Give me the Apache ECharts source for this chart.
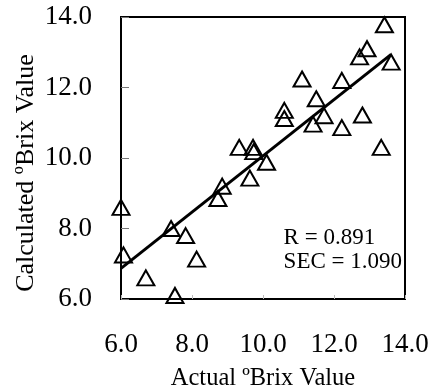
<!DOCTYPE html>
<html>
<head>
<meta charset="utf-8">
<script src="https://cdn.jsdelivr.net/npm/echarts@6/dist/echarts.min.js"></script>
<style>html,body{margin:0;padding:0;background:#fff}#c{width:429px;height:391px}</style>
</head>
<body>
<div id="c"></div>
<script>
// Actual °Brix (x) and calculated °Brix (y)
var actual = [6.0, 6.07, 6.7, 7.52, 7.41, 7.82, 8.13, 8.73, 8.85, 9.33, 9.72, 9.74, 9.63, 10.1,
              10.6, 10.6, 11.1, 11.5, 11.72, 11.41, 12.22, 12.22, 12.8, 13.33, 12.72, 12.93, 13.42, 13.61];
var calculated = [8.6, 7.25, 6.6, 6.1, 8.0, 7.8, 7.13, 8.85, 9.2, 10.3, 10.3, 10.18, 9.43, 9.88,
                  11.35, 11.12, 12.24, 11.68, 11.2, 10.96, 12.2, 10.86, 11.22, 10.3, 12.87, 13.1, 13.78, 12.72];
// Regression line endpoints
var fitX = [6.0, 13.61];
var fitY = [6.87, 12.94];
var axisMin = 6, axisMax = 14, axisStep = 2;
var xTitle = 'Actual ºBrix Value';
var yTitle = 'Calculated ºBrix Value';
var statsText = ['R = 0.891', 'SEC = 1.090'];

var pts = actual.map(function (v, i) { return [v, calculated[i]]; });
var fit = fitX.map(function (v, i) { return [v, fitY[i]]; });
var serif = '"Liberation Serif", "DejaVu Serif", serif';

var chart = echarts.init(document.getElementById('c'), null, {renderer: 'canvas'});
chart.setOption({
  animation: false,
  backgroundColor: '#fff',
  grid: {left: 121, right: 24, top: 17, bottom: 92, show: true, borderColor: '#000', borderWidth: 2,
         containLabel: false, outerBoundsMode: 'none'},
  xAxis: {
    type: 'value', min: axisMin, max: axisMax, interval: axisStep,
    name: xTitle, nameLocation: 'middle', nameGap: 67, nameMoveOverlap: false,
    nameTextStyle: {fontFamily: serif, fontSize: 24.5, color: '#000'},
    axisLine: {show: true, lineStyle: {color: '#000', width: 2}},
    axisTick: {show: true, inside: true, length: 4, lineStyle: {color: '#bbb', width: 1}},
    splitLine: {show: false},
    axisLabel: {margin: 32, fontFamily: serif, fontSize: 27, color: '#000',
      formatter: function (v) { return v.toFixed(1); }}
  },
  yAxis: {
    type: 'value', min: axisMin, max: axisMax, interval: axisStep,
    name: yTitle, nameLocation: 'middle', nameGap: 82, nameRotate: 90, nameMoveOverlap: false,
    nameTextStyle: {fontFamily: serif, fontSize: 26, color: '#000', padding: [0, 30, 0, 0]},
    axisLine: {show: true, lineStyle: {color: '#000', width: 2}},
    axisTick: {show: true, inside: true, length: 8, lineStyle: {color: '#777', width: 1}},
    splitLine: {show: false},
    axisLabel: {margin: 29, fontFamily: serif, fontSize: 27, color: '#000',
      formatter: function (v) { return v.toFixed(1); }}
  },
  series: [
    {
      type: 'scatter', data: pts, symbol: 'triangle', symbolSize: [17, 15],
      itemStyle: {color: 'rgba(255,255,255,0)', borderColor: '#000', borderWidth: 2, opacity: 1},
      z: 2
    },
    {
      type: 'line', data: fit, showSymbol: false, symbol: 'none',
      lineStyle: {color: '#000', width: 3}, z: 3
    }
  ],
  graphic: [{
    type: 'text', right: 27, top: 226,
    style: {text: statsText.join('\n'), font: '23px ' + serif, fill: '#000', lineHeight: 24}
  }]
});
</script>
</body>
</html>
